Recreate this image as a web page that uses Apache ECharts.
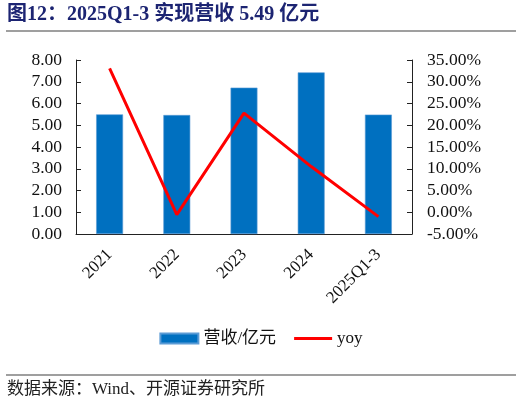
<!DOCTYPE html>
<html><head><meta charset="utf-8">
<script src="https://cdn.jsdelivr.net/npm/echarts@6/dist/echarts.min.js"></script>
<style>html,body{margin:0;padding:0;background:#fff}#c{width:522px;height:405px}</style>
</head><body><div id="c"></div>
<script>
var categories = ['2021', '2022', '2023', '2024', '2025Q1-3'];
var revenue = [5.50, 5.47, 6.73, 7.43, 5.49];
var yoy = [33.1, -0.55, 22.8, 10.5, -1.0];
var leftTicks = [0, 8, 1];
var rightTicks = [-5, 35, 5];

var serif = '"Liberation Serif","Times New Roman","Noto Sans CJK SC",serif';
var chart = echarts.init(document.getElementById('c'));
chart.setOption({
  animation: false,
  backgroundColor: '#fff',
  grid: {left: 76, right: 110, top: 60, bottom: 171},
  graphic: [
    {type: 'text', left: 7, top: 5, style: {text: '图12：2025Q1-3 实现营收 5.49 亿元', font: 'bold 20px ' + serif, fill: '#1c2472'}},
    {type: 'line', shape: {x1: 6, y1: 31, x2: 516, y2: 31}, style: {stroke: '#7f7f7f', lineWidth: 1.5}},
    {type: 'line', shape: {x1: 6, y1: 375, x2: 516, y2: 375}, style: {stroke: '#7f7f7f', lineWidth: 1.5}},
    {type: 'text', left: 7, top: 381, style: {text: '数据来源：Wind、开源证券研究所', font: '17px ' + serif, fill: '#222'}}
  ],
  legend: {
    bottom: 53, left: 'center', itemGap: 18, itemWidth: 38, itemHeight: 10,
    textStyle: {fontFamily: serif, fontSize: 17, color: '#111'},
    data: [{name: '营收/亿元', icon: 'rect'}, {name: 'yoy', icon: 'path://M0,0 L40,0 L40,3 L0,3 Z'}]
  },
  xAxis: {
    type: 'category', data: categories,
    axisLine: {lineStyle: {color: '#222'}},
    axisTick: {inside: true, length: 5, lineStyle: {color: '#222'}},
    axisLabel: {rotate: 45, fontFamily: serif, fontSize: 17, color: '#111', margin: 18}
  },
  yAxis: [
    {type: 'value', min: leftTicks[0], max: leftTicks[1], interval: leftTicks[2],
      axisLine: {show: true, lineStyle: {color: '#222'}},
      axisTick: {show: true, inside: true, length: 5, lineStyle: {color: '#222'}},
      splitLine: {show: false},
      axisLabel: {formatter: function (v) { return v.toFixed(2); }, fontFamily: serif, fontSize: 17.5, color: '#111', margin: 14}
    },
    {type: 'value', min: rightTicks[0], max: rightTicks[1], interval: rightTicks[2], position: 'right',
      axisLine: {show: true, lineStyle: {color: '#222'}},
      axisTick: {show: true, inside: true, length: 5, lineStyle: {color: '#222'}},
      splitLine: {show: false},
      axisLabel: {formatter: function (v) { return v.toFixed(2) + '%'; }, fontFamily: serif, fontSize: 17.5, color: '#111', margin: 15}
    }
  ],
  series: [
    {name: '营收/亿元', type: 'bar', data: revenue, barWidth: '40%',
      itemStyle: {color: '#0070c0', borderColor: '#5b9bd5', borderWidth: 0.6}},
    {name: 'yoy', type: 'line', yAxisIndex: 1, data: yoy, symbol: 'none',
      lineStyle: {color: '#ff0000', width: 3}, itemStyle: {color: '#ff0000'}}
  ]
});
</script></body></html>
